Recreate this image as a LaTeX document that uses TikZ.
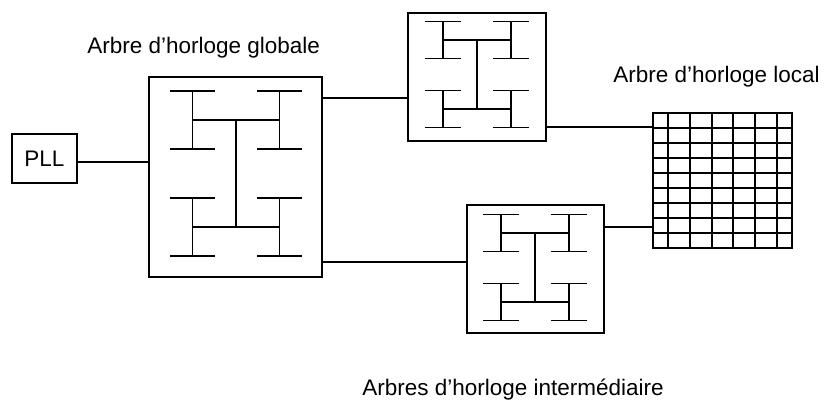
\documentclass[tikz,border=0pt]{standalone}
\usepackage{fontspec}
\setmainfont{Liberation Sans}
\usepackage{tikz}
\usetikzlibrary{calc}
\tikzset{
  blk/.style={draw=black, line width=0.8pt, inner sep=0pt},
  cellgrid/.style={draw=black, line width=1pt},
  wire/.style={draw=black, line width=0.7pt},
  tree/.style={draw=black, line width=1.1pt},
  lbl/.style={font=\fontsize{12.8}{15}\selectfont, inner sep=0pt}
}
% one leaf of an H-tree: x, y, half height, half bar
\newcommand{\hleaf}[4]{%
  \draw[tree] (#1,#2-#3) -- (#1,#2+#3)
    (#1-#4,#2-#3) -- (#1+#4,#2-#3)
    (#1-#4,#2+#3) -- (#1+#4,#2+#3);}
% whole H-tree: cx, cy, half width, half height, leaf half height, half bar
\newcommand{\htree}[6]{%
  \draw[tree] (#1-#3,#2-#4) -- (#1+#3,#2-#4)
    (#1-#3,#2+#4) -- (#1+#3,#2+#4)
    (#1,#2-#4) -- (#1,#2+#4);
  \hleaf{#1-#3}{#2-#4}{#5}{#6}
  \hleaf{#1+#3}{#2-#4}{#5}{#6}
  \hleaf{#1-#3}{#2+#4}{#5}{#6}
  \hleaf{#1+#3}{#2+#4}{#5}{#6}}
\begin{document}
\begin{tikzpicture}[x=0.02cm, y=-0.02cm]
  \useasboundingbox (0,0) rectangle (825,401);

  \node[blk, lbl, minimum width=1.3cm, minimum height=0.98cm] (pll) at (44.5,158.5) {PLL};
  \node[blk, minimum width=3.46cm, minimum height=4cm] (glob) at (235.5,177) {};
  \node[blk, minimum width=2.76cm, minimum height=2.56cm] (top) at (477,77) {};
  \node[blk, minimum width=2.74cm, minimum height=2.56cm] (bot) at (535.5,269) {};
  \node[cellgrid, minimum width=2.78cm, minimum height=2.7cm, inner sep=0pt] (grid) at (722.5,180.5) {};

  \htree{236}{173.5}{43.5}{53.5}{29}{22.5}
  \htree{477}{74.5}{34}{34.5}{18.5}{18}
  \htree{535}{267.5}{34}{34.5}{18.5}{18}

  % cells of the local tree
  \draw[cellgrid] (668,113) -- (668,248) (690,113) -- (690,248)
    (712,113) -- (712,248) (733,113) -- (733,248)
    (755,113) -- (755,248) (777,113) -- (777,248);
  \draw[cellgrid] (653,128) -- (792,128) (653,143) -- (792,143)
    (653,158) -- (792,158) (653,173) -- (792,173)
    (653,188) -- (792,188) (653,203) -- (792,203)
    (653,218) -- (792,218) (653,233) -- (792,233);

  \coordinate (p1) at ([yshift=-0.07cm]pll.east);
  \coordinate (g1) at ([yshift=1.58cm]glob.east);
  \coordinate (g2) at ([yshift=-1.7cm]glob.east);
  \coordinate (t1) at ([yshift=-1cm]top.east);
  \coordinate (b1) at ([yshift=0.84cm]bot.east);
  \draw[wire] (p1) -- (p1 -| glob.west);
  \draw[wire] (g1) -- (g1 -| top.west);
  \draw[wire] (g2) -- (g2 -| bot.west);
  \draw[wire] (t1) -- (t1 -| grid.west);
  \draw[wire] (b1) -- (b1 -| grid.west);

  \node[lbl, anchor=base west] (lglob) at (87,54) {Arbre d’horloge globale};
  \node[lbl, anchor=base west] (lloc) at (613,83) {Arbre d’horloge local};
  \node[lbl, anchor=base west] (linter) at (362,396) {Arbres d’horloge intermédiaire};
\end{tikzpicture}
\end{document}
